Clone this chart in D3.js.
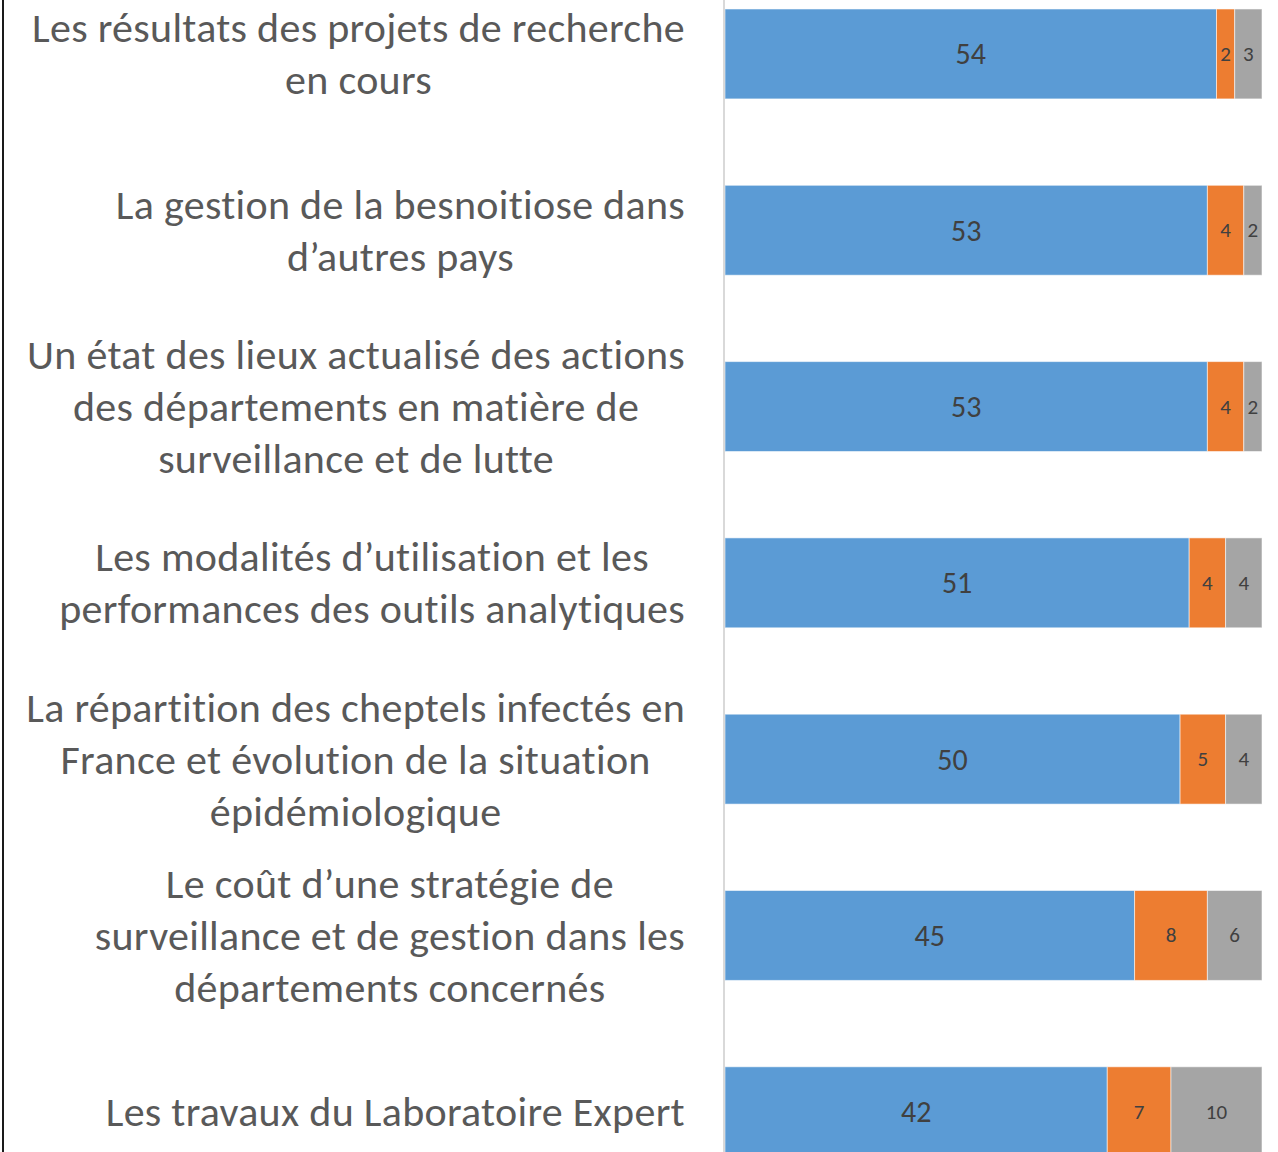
<!DOCTYPE html>
<html>
<head>
<meta charset="utf-8">
<script src="https://cdn.jsdelivr.net/npm/d3@7"></script>
<style>
  html, body { margin: 0; padding: 0; background: #ffffff; }
  svg { display: block; }
</style>
</head>
<body>
<svg id="chart" width="1278" height="1152"></svg>
<script>
// ---- data ----
const categories = [
  ["Les résultats des projets de recherche", "en cours"],
  ["La gestion de la besnoitiose dans", "d\u2019autres pays"],
  ["Un état des lieux actualisé des actions", "des départements en matière de", "surveillance et de lutte"],
  ["Les modalités d\u2019utilisation et les", "performances des outils analytiques"],
  ["La répartition des cheptels infectés en", "France et évolution de la situation", "épidémiologique"],
  ["Le coût d\u2019une stratégie de", "surveillance et de gestion dans les", "départements concernés"],
  ["Les travaux du Laboratoire Expert"]
];
const seriesA = [54, 53, 53, 51, 50, 45, 42];
const seriesB = [2, 4, 4, 4, 5, 8, 7];
const seriesC = [3, 2, 2, 4, 4, 6, 10];
const colors = ["#5B9BD5", "#ED7D31", "#A5A5A5"];

// ---- layout ----
const svg = d3.select("#chart");
const font = "Carlito, Calibri, Lato, 'Open Sans', sans-serif";
const textColor = "#595959";
const labelColor = "#404040";

const keys = categories.map(c => c.join(" "));
const rows = keys.map((k, i) => ({ key: k, lines: categories[i], A: seriesA[i], B: seriesB[i], C: seriesC[i] }));
const totals = rows.map(r => r.A + r.B + r.C);

const x = d3.scaleLinear().domain([0, d3.max(totals)]).range([725, 1262]);
const step = 176.3;
const y = d3.scaleBand().domain(keys)
  .range([-34.2, -34.2 + step * keys.length])
  .paddingInner(0.49).paddingOuter(0.245);

const stacked = d3.stack().keys(["A", "B", "C"])(rows);

// left frame line
svg.append("line").attr("x1", 3).attr("x2", 3).attr("y1", 0).attr("y2", 1152)
  .attr("stroke", "#1a1a1a").attr("stroke-width", 2);

// bars
const layer = svg.selectAll("g.layer").data(stacked).enter().append("g")
  .attr("class", "layer").attr("fill", (d, i) => colors[i]);

layer.selectAll("rect").data(d => d).enter().append("rect")
  .attr("x", d => x(d[0]))
  .attr("y", d => y(d.data.key))
  .attr("width", d => x(d[1]) - x(d[0]))
  .attr("height", y.bandwidth())
  .attr("stroke", "#ffffff").attr("stroke-opacity", 0.55).attr("stroke-width", 1);

// value labels
stacked.forEach((s, si) => {
  svg.append("g").selectAll("text").data(s).enter().append("text")
    .attr("x", d => (x(d[0]) + x(d[1])) / 2)
    .attr("y", d => y(d.data.key) + y.bandwidth() / 2)
    .attr("text-anchor", "middle")
    .attr("dominant-baseline", "central")
    .attr("font-family", font)
    .attr("font-size", si === 0 ? 30 : 21)
    .attr("fill", labelColor)
    .text(d => d[1] - d[0]);
});

// y axis line
const yAxis = d3.axisLeft(y).tickSize(0).tickFormat("");
const axisG = svg.append("g").attr("transform", "translate(724,0)").call(yAxis);
axisG.select(".domain").attr("stroke", "#d9d9d9").attr("stroke-width", 2)
  .attr("d", "M0,0V1152");

// category labels (wrapped, centered block, right aligned)
const lineH = 52;
const rightEdge = 685;
rows.forEach(r => {
  const g = svg.append("g");
  const cy = y(r.key) + y.bandwidth() / 2;
  const n = r.lines.length;
  const texts = g.selectAll("text").data(r.lines).enter().append("text")
    .attr("y", (d, i) => cy + (i - (n - 1) / 2) * lineH)
    .attr("dominant-baseline", "central")
    .attr("text-anchor", "middle")
    .attr("font-family", font)
    .attr("font-size", 42)
    .attr("letter-spacing", 0.3)
    .attr("fill", textColor)
    .text(d => d);
  let maxW = 0;
  texts.each(function () { maxW = Math.max(maxW, this.getComputedTextLength()); });
  texts.attr("x", rightEdge - maxW / 2);
});
</script>
</body>
</html>
